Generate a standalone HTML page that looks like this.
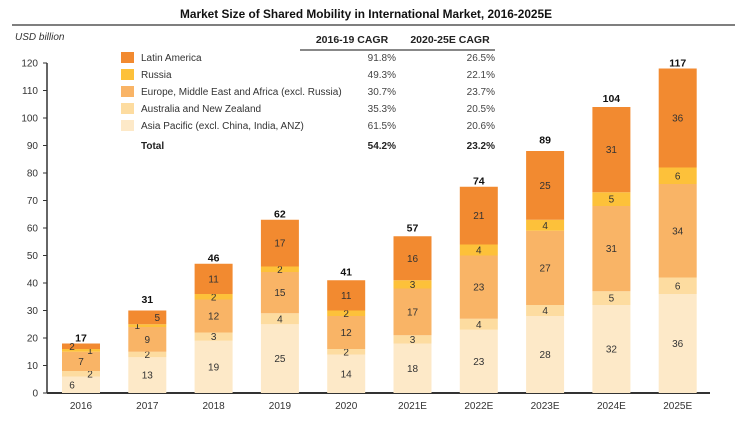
<!DOCTYPE html>
<html><head><meta charset="utf-8"><style>
body{margin:0;background:#fff;font-family:"Liberation Sans",sans-serif;}
svg text{font-family:"Liberation Sans",sans-serif;}
</style></head><body>
<svg width="737" height="423" viewBox="0 0 737 423">
<text x="366" y="18" text-anchor="middle" font-size="12" font-weight="bold" fill="#111" textLength="372" lengthAdjust="spacingAndGlyphs">Market Size of Shared Mobility in International Market,  2016-2025E</text>
<line x1="12" y1="25" x2="735" y2="25" stroke="#555" stroke-width="1.5"/>
<text x="15" y="40" font-size="10" font-style="italic" fill="#333">USD billion</text>
<text x="352" y="43" text-anchor="middle" font-size="10.5" font-weight="bold" fill="#222">2016-19 CAGR</text>
<text x="450" y="43" text-anchor="middle" font-size="10.5" font-weight="bold" fill="#222">2020-25E CAGR</text>
<line x1="300" y1="50" x2="495" y2="50" stroke="#888" stroke-width="2"/>
<g id="legend"></g>
<g id="axis"></g>
<g id="bars"></g>
</svg>
<script>
const categories=["2016","2017","2018","2019","2020","2021E","2022E","2023E","2024E","2025E"];
const asiaPacific=[6,13,19,25,14,18,23,28,32,36];
const anz=[2,2,3,4,2,3,4,4,5,6];
const emea=[7,9,12,15,12,17,23,27,31,34];
const russia=[1,1,2,2,2,3,4,4,5,6];
const latam=[2,5,11,17,11,16,21,25,31,36];
const totals=[17,31,46,62,41,57,74,89,104,117];
const yTicks=[0,10,20,30,40,50,60,70,80,90,100,110,120];
const seriesNames=["Latin America","Russia","Europe, Middle East and Africa (excl. Russia)","Australia and New Zealand","Asia Pacific (excl. China, India, ANZ)"];
const cagr1=["91.8%","49.3%","30.7%","35.3%","61.5%"];
const cagr2=["26.5%","22.1%","23.7%","20.5%","20.6%"];
const totalCagr=["54.2%","23.2%"];
const NS="http://www.w3.org/2000/svg";
const colors=["#f28a30","#fdc13a","#f9b466","#fddca0","#fde9c8"];
const y=v=>393-v*2.75;
const x=i=>81+i*66.3;
// label nudges for crowded small bars: key "bar-segment" -> dx
const nudge={"0-0":-9,"0-1":9,"0-3":9,"0-4":-9,"1-3":-10,"1-4":10};
function mk(tag,attrs,parent,txt){const e=document.createElementNS(NS,tag);for(const k in attrs)e.setAttribute(k,attrs[k]);if(txt!==undefined)e.textContent=txt;parent.appendChild(e);return e;}
const ax=document.getElementById('axis');
let l=mk('line',{x1:47,y1:y(0),x2:710,y2:y(0),stroke:'#333','stroke-width':2},ax);


l=mk('line',{x1:47,y1:y(0),x2:47,y2:y(120),stroke:'#333','stroke-width':1.5},ax);


yTicks.forEach(t=>{
 mk('line',{x1:43,y1:y(t),x2:47,y2:y(t),stroke:'#333'},ax);
 const tx=mk('text',{x:38,y:y(t)+3.5,'text-anchor':'end','font-size':10,fill:'#333'},ax,t);
 
 
});
const bars=document.getElementById('bars');
const stacks=[asiaPacific,anz,emea,russia,latam];
const segColors=[colors[4],colors[3],colors[2],colors[1],colors[0]];
categories.forEach((c,i)=>{
 let cum=0;
 stacks.forEach((s,k)=>{
  const v=s[i];
  const r=mk('rect',{x:x(i)-19,y:y(cum+v),width:38,height:v*2.75,fill:segColors[k]},bars);
  
  
  const dx=nudge[i+"-"+k]||0;
  const t=mk('text',{x:x(i)+dx,y:y(cum+v/2)+3.5,'text-anchor':'middle','font-size':10,fill:'#333'},bars,v);
  
  
  cum+=v;
 });
 const tt=mk('text',{x:x(i),y:y(totals[i])-5,'text-anchor':'middle','font-size':10.5,'font-weight':'bold',fill:'#111'},bars,totals[i]);
 
 
 const xl=mk('text',{x:x(i),y:409,'text-anchor':'middle','font-size':10,fill:'#333'},bars,c);
 
 
});
const lg=document.getElementById('legend');
seriesNames.forEach((n,k)=>{
 const yy=61+k*17;
 const sw=mk('rect',{x:121,y:yy-9,width:13,height:11,fill:colors[k]},lg);
 
 
 const t=mk('text',{x:141,y:yy,'font-size':10,fill:'#333'},lg,n);
 
 
 mk('text',{x:396,y:yy,'text-anchor':'end','font-size':10,fill:'#444'},lg,cagr1[k]);
 mk('text',{x:495,y:yy,'text-anchor':'end','font-size':10,fill:'#444'},lg,cagr2[k]);
});
const tl=mk('text',{x:141,y:149,'font-size':10,'font-weight':'bold',fill:'#222'},lg,'Total');


mk('text',{x:396,y:149,'text-anchor':'end','font-size':10,'font-weight':'bold',fill:'#222'},lg,totalCagr[0]);
mk('text',{x:495,y:149,'text-anchor':'end','font-size':10,'font-weight':'bold',fill:'#222'},lg,totalCagr[1]);
</script>
</body></html>
